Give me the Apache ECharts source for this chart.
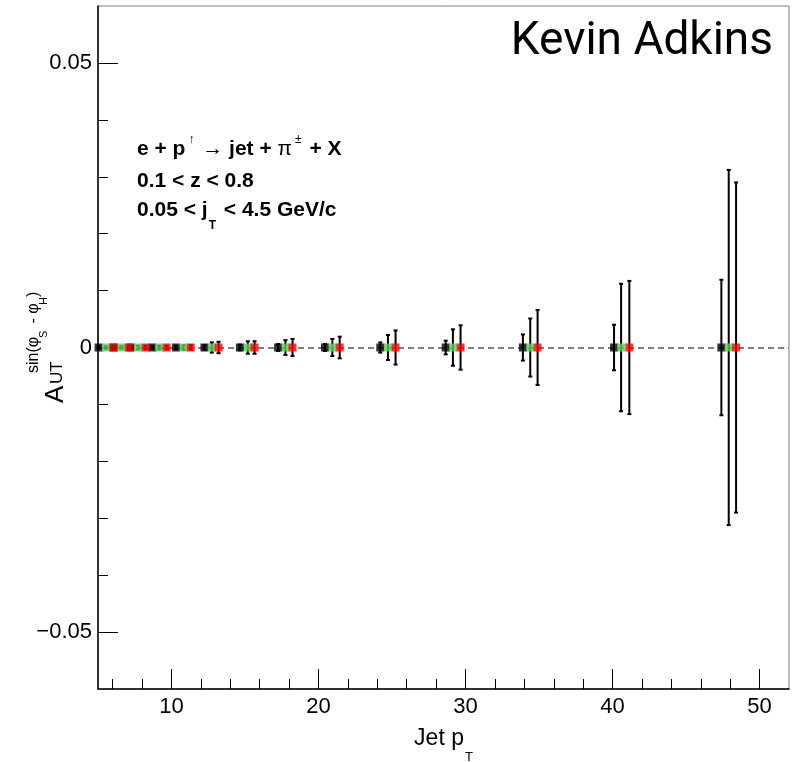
<!DOCTYPE html>
<html><head><meta charset="utf-8">
<script src="https://cdn.jsdelivr.net/npm/echarts@6/dist/echarts.min.js"></script>
<style>html,body{margin:0;padding:0;background:#fff}#c{width:800px;height:762px}</style>
</head><body><div id="c"></div>
<script>
// ---- axis ticks ----
const xRange = [5, 52];
const yRange = [-0.06, 0.06];
const xMajorTicks = [10, 20, 30, 40, 50];
const xMinorTicks = [6, 8, 12, 14, 16, 18, 22, 24, 26, 28, 32, 34, 36, 38, 42, 44, 46, 48];
const yMajorTicks = [-0.05, 0, 0.05];
const yMinorTicks = [-0.04, -0.03, -0.02, -0.01, 0.01, 0.02, 0.03, 0.04];

// ---- data (jet pT, asymmetry, error) ----
const blackX   = [5.04, 6.08, 7.22, 8.69, 10.3, 12.24, 14.65, 17.25, 20.44, 24.2, 28.65, 33.9, 40.1, 47.4];
const blackY   = [0, 0, 0, 0, 0, 0, 0, 0, 0, 0, 0, 0, 0, 0];
const blackErr = [0.0002, 0.0002, 0.0002, 0.0002, 0.0003, 0.0004, 0.0005, 0.0006, 0.0006, 0.0009, 0.0012, 0.0023, 0.0040, 0.0119];

const greenX   = [5.54, 6.58, 7.72, 9.16, 10.82, 12.74, 15.19, 17.75, 20.94, 24.72, 29.14, 34.4, 40.58, 47.9];
const greenY   = [0, 0, 0, 0, 0, 0, 0, 0, 0, 0, 0, 0, 0, 0];
const greenErr = [0.0002, 0.0002, 0.0003, 0.0003, 0.0004, 0.0009, 0.0011, 0.0013, 0.0015, 0.0022, 0.0032, 0.0051, 0.0112, 0.0312];

const redX   = [6.04, 7.09, 8.24, 9.67, 11.31, 13.2, 15.65, 18.23, 21.44, 25.24, 29.66, 34.9, 41.14, 48.4];
const redY   = [0, 0, 0, 0, 0, 0, 0, 0, 0, 0, 0, 0, 0, 0];
const redErr = [0.0002, 0.0002, 0.0003, 0.0003, 0.0004, 0.0010, 0.0011, 0.0015, 0.0019, 0.0030, 0.0039, 0.0066, 0.0117, 0.0290];

const seriesDefs = [
  {name: 'black', x: blackX, y: blackY, e: blackErr, color: '#000000'},
  {name: 'green', x: greenX, y: greenY, e: greenErr, color: '#57cf57'},
  {name: 'red',   x: redX,   y: redY,   e: redErr,   color: '#ff0000'}
];

const FONT = '"Liberation Sans", Arial, Helvetica, sans-serif';
const chart = echarts.init(document.getElementById('c'), null, {renderer: 'canvas'});

function errRender(params, api) {
  const x = api.value(0), y = api.value(1), e = api.value(2);
  const p0 = api.coord([x, y - e]);
  const p1 = api.coord([x, y + e]);
  const cap = 2;
  const st = {stroke: '#000', lineWidth: 2};
  return {type: 'group', children: [
    {type: 'line', shape: {x1: p0[0], y1: p0[1], x2: p1[0], y2: p1[1]}, style: st},
    {type: 'line', shape: {x1: p0[0] - cap, y1: p0[1], x2: p0[0] + cap, y2: p0[1]}, style: st},
    {type: 'line', shape: {x1: p1[0] - cap, y1: p1[1], x2: p1[0] + cap, y2: p1[1]}, style: st}
  ]};
}

const series = [];
seriesDefs.forEach(function (d, i) {
  const data = d.x.map(function (v, k) { return [v, d.y[k], d.e[k]]; });
  series.push({
    type: 'custom', name: d.name + '_err', xAxisIndex: 0, yAxisIndex: 0,
    renderItem: errRender, data: data, z: 3 + i * 2, silent: true,
    encode: {x: 0, y: 1}
  });
  series.push({
    type: 'scatter', name: d.name, xAxisIndex: 0, yAxisIndex: 0,
    data: data.map(function (p) { return [p[0], p[1]]; }),
    symbol: 'rect', symbolSize: 8, itemStyle: {color: d.color},
    z: 4 + i * 2, silent: true
  });
});
// zero reference line
series[0].markLine = {
  silent: true, symbol: 'none', z: 1,
  label: {show: false},
  lineStyle: {color: '#808080', width: 2, type: [6, 4]},
  data: [{yAxis: 0}]
};

function yFmt(v) {
  if (Math.abs(v) < 1e-9) return '0';
  return (v < 0 ? '\u2212' + Math.abs(v).toFixed(2) : v.toFixed(2));
}

const grid = {left: 98, right: 11, top: 6, bottom: 73, show: true, borderColor: '#808080', borderWidth: 1,
  backgroundColor: 'transparent', outerBoundsMode: 'none', containLabel: false};

const option = {
  animation: false,
  backgroundColor: '#fff',
  grid: grid,
  xAxis: [
    {type: 'value', min: xRange[0], max: xRange[1], gridIndex: 0, position: 'bottom',
     axisLine: {show: true, onZero: false, lineStyle: {color: '#000', width: 1.5}},
     axisTick: {show: true, inside: true, length: 20, customValues: xMajorTicks, lineStyle: {color: '#000', width: 1}},
     axisLabel: {show: true, customValues: xMajorTicks, fontSize: 22, color: '#000', fontFamily: FONT, margin: 7},
     splitLine: {show: false},
     name: '{a|Jet p}{s|T}', nameLocation: 'middle', nameGap: 38,
     nameTextStyle: {rich: {
       a: {fontSize: 23, fontFamily: FONT, color: '#000', lineHeight: 28, verticalAlign: 'top'},
       s: {fontSize: 13, fontFamily: FONT, color: '#000', lineHeight: 18, verticalAlign: 'bottom', padding: [0,0,-9,1]}
     }}
    },
    {type: 'value', min: xRange[0], max: xRange[1], gridIndex: 0, position: 'bottom',
     axisLine: {show: false, onZero: false},
     axisTick: {show: true, inside: true, length: 10, customValues: xMinorTicks, lineStyle: {color: '#000', width: 1}},
     axisLabel: {show: false}, splitLine: {show: false}}
  ],
  yAxis: [
    {type: 'value', min: yRange[0], max: yRange[1], gridIndex: 0, position: 'left',
     axisLine: {show: true, onZero: false, lineStyle: {color: '#000', width: 1.5}},
     axisTick: {show: true, inside: true, length: 20, customValues: yMajorTicks, lineStyle: {color: '#000', width: 1}},
     axisLabel: {show: true, customValues: yMajorTicks, fontSize: 22, color: '#000', fontFamily: FONT, margin: 6, formatter: yFmt},
     splitLine: {show: false}},
    {type: 'value', min: yRange[0], max: yRange[1], gridIndex: 0, position: 'left',
     axisLine: {show: false, onZero: false},
     axisTick: {show: true, inside: true, length: 10, customValues: yMinorTicks, lineStyle: {color: '#000', width: 1}},
     axisLabel: {show: false}, splitLine: {show: false}}
  ],
  series: series,
  graphic: [
    // y-axis title pieces (rotated)
    {type: 'text', x: 56, y: 403, rotation: Math.PI / 2, silent: true,
     style: {text: 'A', font: '26px ' + FONT, fill: '#000', textAlign: 'left', textVerticalAlign: 'middle'}},
    {type: 'text', x: 57, y: 384, rotation: Math.PI / 2, silent: true,
     style: {text: 'UT', font: '17px ' + FONT, fill: '#000', textAlign: 'left', textVerticalAlign: 'middle'}},
    {type: 'text', x: 34, y: 373, rotation: Math.PI / 2, silent: true,
     style: {text: 'sin(\u03c6', font: '16px ' + FONT, fill: '#000', textAlign: 'left', textVerticalAlign: 'middle'}},
    {type: 'text', x: 44, y: 338, rotation: Math.PI / 2, silent: true,
     style: {text: 'S', font: '11px ' + FONT, fill: '#000', textAlign: 'left', textVerticalAlign: 'middle'}},
    {type: 'text', x: 34, y: 328, rotation: Math.PI / 2, silent: true,
     style: {text: ' - \u03c6', font: '16px ' + FONT, fill: '#000', textAlign: 'left', textVerticalAlign: 'middle'}},
    {type: 'text', x: 44, y: 305, rotation: Math.PI / 2, silent: true,
     style: {text: 'H', font: '11px ' + FONT, fill: '#000', textAlign: 'left', textVerticalAlign: 'middle'}},
    {type: 'text', x: 34, y: 297, rotation: Math.PI / 2, silent: true,
     style: {text: ')', font: '16px ' + FONT, fill: '#000', textAlign: 'left', textVerticalAlign: 'middle'}},
    // annotation
    {type: 'text', left: 137, top: 134, silent: true,
     style: {text: '{b|e + p}{u|\u2191}{n| \u2192 }{b|jet + }{n|\u03c0}{u|\u00b1}{b| + X}',
       rich: {
         b: {font: 'bold 21px ' + FONT, fill: '#000', lineHeight: 26, verticalAlign: 'bottom'},
         n: {font: '21px ' + FONT, fill: '#000', lineHeight: 26, verticalAlign: 'bottom'},
         u: {font: '12px ' + FONT, fill: '#000', lineHeight: 14, verticalAlign: 'top', padding: [0, 2, 0, 3]}
       }}},
    {type: 'text', left: 137, top: 171, silent: true,
     style: {text: '0.1 < z < 0.8', font: 'bold 21px ' + FONT, fill: '#000'}},
    {type: 'text', left: 137, top: 200, silent: true,
     style: {text: '{b|0.05 < j}{s|T}{b| < 4.5 GeV/c}',
       rich: {
         b: {font: 'bold 21px ' + FONT, fill: '#000', lineHeight: 26, verticalAlign: 'top'},
         s: {font: 'bold 12px ' + FONT, fill: '#000', lineHeight: 14, verticalAlign: 'bottom', padding: [0, 2, -6, 1]}
       }}},
    // watermark
    {type: 'text', right: 27, top: 19, silent: true,
     style: {text: 'Kevin Adkins', font: '46px Roboto, "Open Sans", sans-serif', fill: '#000'}}
  ]
};
chart.setOption(option);
</script>
</body></html>
